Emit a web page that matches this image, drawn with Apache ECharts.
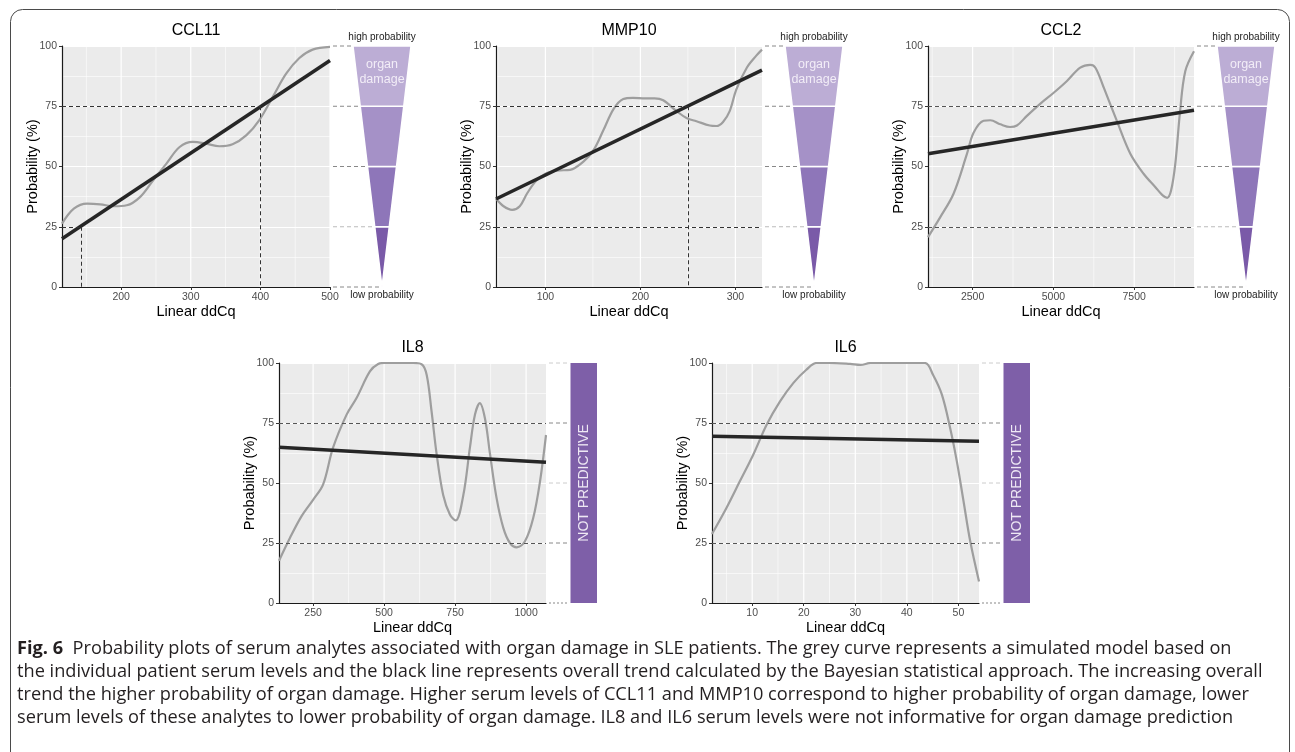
<!DOCTYPE html>
<html><head><meta charset="utf-8">
<script src="https://cdn.jsdelivr.net/npm/echarts@6/dist/echarts.min.js"></script>
<style>html,body{margin:0;padding:0;background:#fff;}#c{width:1295px;height:752px;}</style>
</head><body><div id="c"></div>
<script>
// ---------------- data ----------------
const yTicks = [0, 25, 50, 75, 100];

const ccl11Range = [115, 500];
const ccl11Ticks = [200, 300, 400, 500];
const ccl11Minor = [150, 250, 350, 450];
const ccl11Curve = [[115,26.3],[132,32.5],[151,34.6],[170,34.3],[189,33.5],[208,33.9],[227,37.3],[246,44.3],[265,51.2],[284,58.1],[303,60.2],[322,59.5],[341,58.4],[360,59.2],[380,63],[399,69.5],[418,79],[437,88.5],[456,95],[475,98.5],[500,99.6]];
const ccl11Trend = [[115,20],[500,94]];
const ccl11Guides = [[[115,75],[400,75]],[[400,75],[400,0]],[[115,25],[142,25]],[[142,25],[142,0]]];

const mmp10Range = [48, 328];
const mmp10Ticks = [100, 200, 300];
const mmp10Minor = [50, 150, 250];
const mmp10Curve = [[48,36.6],[56,33.5],[65,32],[73,33.5],[81,39],[90,44],[100,47],[112,48.3],[126,48.6],[140,52],[151,57],[161,65],[172,74],[182,78],[192,78.5],[205,78.3],[215,78.3],[224,77.5],[238,73],[249,70],[259,68.8],[273,67],[280,66.8],[287,68.5],[294,73],[301,82],[312,91],[322,96],[328,98.5]];
const mmp10Trend = [[48,36.5],[328,90]];
const mmp10Guides = [[[48,75],[250,75]],[[250,75],[250,0]],[[48,25],[328,25]]];

const ccl2Range = [1120, 9350];
const ccl2Ticks = [2500, 5000, 7500];
const ccl2Minor = [1250, 3750, 6250, 8750];
const ccl2Curve = [[1120,20.7],[1500,29],[1910,38.7],[2320,55],[2530,64],[2840,69],[3050,69.2],[3360,67.5],[3660,66.4],[3870,67],[4180,71],[4590,76],[5000,80.5],[5420,85.5],[5830,91],[6140,92.2],[6300,91],[6550,83],[6960,69],[7380,55.3],[7790,47],[8150,41.5],[8380,38],[8520,37],[8640,40],[8770,51],[8920,73],[9080,89.5],[9350,97.8]];
const ccl2Trend = [[1120,55.3],[9350,73.3]];
const ccl2Guides = [[[1120,75],[9350,75]],[[1120,25],[9350,25]]];

const il8Range = [130, 1070];
const il8Ticks = [250, 500, 750, 1000];
const il8Minor = [375, 625, 875];
const il8Curve = [[130,17.6],[168,27],[209,36.1],[250,43],[285,49.3],[320,64.6],[368,78.5],[403,85.4],[450,96.5],[479,99.6],[500,100],[550,100],[602,100],[632,99.5],[650,95],[667,80],[685,62],[708,45],[732,36.8],[752,34.4],[779,45],[802,64.6],[820,78.5],[837,83.3],[855,77],[873,62],[896,43.7],[920,31.2],[943,25],[967,23.2],[996,25.7],[1025,35.4],[1049,50.7],[1070,70]];
const il8Trend = [[130,64.9],[1070,58.6]];
const il8Guides = [[[130,75],[1070,75]],[[130,25],[1070,25]]];

const il6Range = [2.2, 54];
const il6Ticks = [10, 20, 30, 40, 50];
const il6Minor = [5, 15, 25, 35, 45];
const il6Curve = [[2.2,28.75],[5,39.6],[7.6,50.7],[10.2,61.8],[12.8,74.3],[15.4,84],[18,91.7],[20.5,97.2],[22.5,100],[25,100],[29,99.6],[31,99.2],[33,100],[38,100],[43.5,100],[45.1,95],[46.8,86.8],[48.4,72.9],[49.7,59],[51,42.4],[52.3,25.7],[54,9]];
const il6Trend = [[2.2,69.5],[54,67.4]];
const il6Guides = [[[2.2,75],[54,75]],[[2.2,25],[54,25]]];

const funnelBands = [[0,25],[25,50],[50,75],[75,100]];
const sideLevels = [0, 25, 50, 75, 100];

const captionLines = [
  '{b|Fig. 6}  Probability plots of serum analytes associated with organ damage in SLE patients. The grey curve represents a simulated model based on',
  'the individual patient serum levels and the black line represents overall trend calculated by the Bayesian statistical approach. The increasing overall',
  'trend the higher probability of organ damage. Higher serum levels of CCL11 and MMP10 correspond to higher probability of organ damage, lower',
  'serum levels of these analytes to lower probability of organ damage. IL8 and IL6 serum levels were not informative for organ damage prediction'
];

// ---------------- layout / style ----------------
const FONT = '"Liberation Sans", Arial, sans-serif';
const CAP_FONT = '"Open Sans", "Noto Sans", sans-serif';
const CAP_SIZE = 18.2;
const bandColors = ['#7A5AA8', '#8E76B9', '#A591C7', '#BCADD5'];

const panels = [
  {name:'CCL11', range:ccl11Range, ticks:ccl11Ticks, minor:ccl11Minor, curve:ccl11Curve, trend:ccl11Trend, guides:ccl11Guides, gcol:'#333', box:[62,46,268,241], deco:81, kind:'funnel'},
  {name:'MMP10', range:mmp10Range, ticks:mmp10Ticks, minor:mmp10Minor, curve:mmp10Curve, trend:mmp10Trend, guides:mmp10Guides, gcol:'#333', box:[496,46,266,241], deco:81, kind:'funnel'},
  {name:'CCL2', range:ccl2Range, ticks:ccl2Ticks, minor:ccl2Minor, curve:ccl2Curve, trend:ccl2Trend, guides:ccl2Guides, gcol:'#555', box:[928,46,266,241], deco:82, kind:'funnel'},
  {name:'IL8', range:il8Range, ticks:il8Ticks, minor:il8Minor, curve:il8Curve, trend:il8Trend, guides:il8Guides, gcol:'#555', box:[279,363,267,240], deco:51, kind:'np'},
  {name:'IL6', range:il6Range, ticks:il6Ticks, minor:il6Minor, curve:il6Curve, trend:il6Trend, guides:il6Guides, gcol:'#555', box:[712,363,267,240], deco:51, kind:'np'}
];

const grids = [], xAxes = [], yAxes = [], series = [], graphics = [];

function gridRender(params, api) {
  const v = api.value(0), major = api.value(1);
  const p0 = api.coord([v, 0]), p1 = api.coord([v, 100]);
  return {type:'line', silent:true, shape:{x1:p0[0], y1:p0[1], x2:p1[0], y2:p1[1]},
    style:{stroke:'#fff', lineWidth: major ? 1.2 : 0.6}};
}

function funnelGeom(api) {
  const base = api.coord([0, 0]);
  const top = api.coord([0, 100]);
  const x0 = base[0], yBot = base[1], yTop = top[1];
  const cx = x0 + 52, half = 29;
  const wAt = y => half * (yBot - y) / (yBot - yTop);
  return {x0, yBot, yTop, cx, wAt};
}

function bandRender(params, api) {
  const g = funnelGeom(api);
  const lo = api.value(0), hi = api.value(1);
  const yLo = api.coord([0, lo])[1], yHi = api.coord([0, hi])[1];
  const pts = [[g.cx - g.wAt(yHi), yHi], [g.cx + g.wAt(yHi), yHi], [g.cx + g.wAt(yLo), yLo], [g.cx - g.wAt(yLo), yLo]];
  const children = [{type:'polygon', shape:{points:pts}, style:{fill:bandColors[params.dataIndex], stroke:'#fff', lineWidth:1.5}}];
  if (hi === 100) {
    children.push({type:'text', x:g.cx, y:g.yTop + 19, style:{text:'organ', align:'center', verticalAlign:'middle', fill:'#F2EDF7', fontSize:12.5, fontFamily:FONT}});
    children.push({type:'text', x:g.cx, y:g.yTop + 34, style:{text:'damage', align:'center', verticalAlign:'middle', fill:'#F2EDF7', fontSize:12.5, fontFamily:FONT}});
  }
  return {type:'group', children};
}

function sideDashRender(params, api) {
  const g = funnelGeom(api);
  const lv = api.value(0);
  const y = api.coord([0, lv])[1];
  const children = [{type:'line', shape:{x1:g.x0 + 3, y1:y, x2:g.cx - g.wAt(y) - 2, y2:y},
    style:{stroke: lv === 25 ? '#BBB' : '#888', lineWidth:1, lineDash:[4,3]}}];
  if (lv === 100) children.push({type:'text', x:g.cx, y:g.yTop - 9, style:{text:'high probability', align:'center', verticalAlign:'middle', fill:'#222', fontSize:10, fontFamily:FONT}});
  if (lv === 0) children.push({type:'text', x:g.cx, y:g.yBot + 8, style:{text:'low probability', align:'center', verticalAlign:'middle', fill:'#222', fontSize:10, fontFamily:FONT}});
  return {type:'group', children};
}

function npDashRender(params, api) {
  const lv = api.value(0);
  const p = api.coord([0, lv]);
  const light = (lv === 100 || lv === 50);
  return {type:'line', shape:{x1:p[0] + 3, y1:p[1], x2:p[0] + 23, y2:p[1]},
    style:{stroke: light ? '#CCC' : '#888', lineWidth:1, lineDash: lv === 0 ? [2,2] : [4,3]}};
}

function npRectRender(params, api) {
  const b = api.coord([0, 0]), t = api.coord([1, 100]);
  const xl = b[0] + 24.5, xr = t[0];
  return {type:'group', children:[
    {type:'rect', shape:{x:xl, y:t[1], width:xr - xl, height:b[1] - t[1]}, style:{fill:'#7E5FA8'}},
    {type:'text', x:(xl + xr) / 2, y:(t[1] + b[1]) / 2, rotation:Math.PI / 2,
      style:{text:'NOT PREDICTIVE', align:'center', verticalAlign:'middle', fill:'#EEE8F4', fontSize:14, fontFamily:FONT}}
  ]};
}

panels.forEach((p, i) => {
  const [l, t, w, h] = p.box;
  const gi = grids.length;
  grids.push({left:l, top:t, width:w, height:h, show:true, backgroundColor:'#EBEBEB', borderWidth:0, containLabel:false, outerBoundsMode:'none'});
  grids.push({left:l + w, top:t, width:p.deco, height:h, show:false, containLabel:false, outerBoundsMode:'none'});
  xAxes.push({gridIndex:gi, type:'value', min:p.range[0], max:p.range[1],
    axisLine:{show:true, onZero:false, lineStyle:{color:'#1a1a1a', width:1.2}},
    axisTick:{show:true, length:3, customValues:p.ticks, lineStyle:{color:'#333'}},
    axisLabel:{customValues:p.ticks, color:'#4D4D4D', fontSize:10.5, fontFamily:FONT, margin:5, formatter:v => String(v)},
    splitLine:{show:false},
    name:'Linear ddCq', nameLocation:'middle', nameGap:17, nameMoveOverlap:false,
    nameTextStyle:{fontSize:14.5, color:'#000', fontFamily:FONT}});
  yAxes.push({gridIndex:gi, type:'value', min:0, max:100, interval:25,
    axisLine:{show:true, onZero:false, lineStyle:{color:'#1a1a1a', width:1.2}},
    axisTick:{show:true, length:3, lineStyle:{color:'#333'}},
    axisLabel:{color:'#4D4D4D', fontSize:10.5, fontFamily:FONT, margin:5},
    splitLine:{show:true, lineStyle:{color:'#fff', width:1.2}},
    minorTick:{show:false, splitNumber:2},
    minorSplitLine:{show:true, lineStyle:{color:'#fff', width:0.6}},
    name:'Probability (%)', nameLocation:'middle', nameGap:22, nameRotate:90, nameMoveOverlap:false,
    nameTextStyle:{fontSize:14.5, color:'#000', fontFamily:FONT}});
  xAxes.push({gridIndex:gi + 1, type:'value', min:0, max:1, show:false});
  yAxes.push({gridIndex:gi + 1, type:'value', min:0, max:100, show:false});

  const gridData = p.ticks.map(v => [v, 1]).concat(p.minor.map(v => [v, 0]));
  series.push({type:'custom', xAxisIndex:gi, yAxisIndex:gi, z:1, silent:true, renderItem:gridRender, data:gridData});
  series.push({type:'line', name:p.name + ' model', xAxisIndex:gi, yAxisIndex:gi, z:3, data:p.curve, smooth:0.35, showSymbol:false, symbol:'none',
    lineStyle:{color:'#9E9E9E', width:2.2}, silent:true});
  series.push({type:'line', name:p.name + ' trend', xAxisIndex:gi, yAxisIndex:gi, z:4, data:p.trend, showSymbol:false, symbol:'none',
    lineStyle:{color:'#262626', width:3.5}, silent:true,
    markLine:{silent:true, symbol:['none','none'], label:{show:false}, animation:false,
      lineStyle:{color:p.gcol, width:1, type:[4,3]},
      data:p.guides.map(g => [{coord:g[0]}, {coord:g[1]}])}});
  if (p.kind === 'funnel') {
    series.push({type:'custom', xAxisIndex:gi + 1, yAxisIndex:gi + 1, silent:true, renderItem:bandRender, data:funnelBands});
    series.push({type:'custom', xAxisIndex:gi + 1, yAxisIndex:gi + 1, silent:true, renderItem:sideDashRender, data:sideLevels.map(v => [v])});
  } else {
    series.push({type:'custom', xAxisIndex:gi + 1, yAxisIndex:gi + 1, silent:true, renderItem:npDashRender, data:sideLevels.map(v => [v])});
    series.push({type:'custom', xAxisIndex:gi + 1, yAxisIndex:gi + 1, silent:true, renderItem:npRectRender, data:[[0]]});
  }
  graphics.push({type:'text', x:l + w / 2, y:t - 15, style:{text:p.name, align:'center', verticalAlign:'middle', fill:'#000', fontSize:16, fontFamily:FONT}});
});

graphics.push({type:'rect', shape:{x:10.5, y:9.5, width:1279, height:800, r:12}, style:{fill:'none', stroke:'#4a4a4a', lineWidth:1}, silent:true});
const capY = [649, 672, 695, 718];
captionLines.forEach((txt, k) => {
  graphics.push({type:'text', x:17, y:capY[k], style:{text:txt, fill:'#231F20', fontSize:CAP_SIZE, fontFamily:CAP_FONT, verticalAlign:'middle', align:'left',
    rich:{b:{fontWeight:'bold', fontSize:CAP_SIZE, fontFamily:CAP_FONT, fill:'#231F20'}}}});
});

const chart = echarts.init(document.getElementById('c'), null, {renderer:'canvas'});
chart.setOption({
  animation:false,
  backgroundColor:'#fff',
  grid:grids, xAxis:xAxes, yAxis:yAxes, series:series, graphic:graphics
});
</script></body></html>
